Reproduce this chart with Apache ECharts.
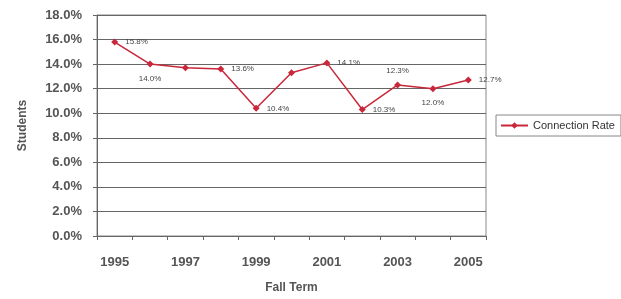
<!DOCTYPE html>
<html><head><meta charset="utf-8">
<script src="https://cdn.jsdelivr.net/npm/echarts@6/dist/echarts.min.js"></script>
<style>html,body{margin:0;padding:0;background:#fff}#c{width:621px;height:299px}</style>
</head><body><div id="c"></div>
<script>
const years = ['1995','1996','1997','1998','1999','2000','2001','2002','2003','2004','2005'];
const rates = [15.8, 14.0, 13.7, 13.6, 10.4, 13.3, 14.1, 10.3, 12.3, 12.0, 12.7];
const labelPos = ['right','bottom',null,'right','right',null,'right','right','top','bottom','right'];
const yTicks = [0,2,4,6,8,10,12,14,16,18];

const data = rates.map((v,i)=>({
  value: v,
  label: labelPos[i] ? {show:true, position:labelPos[i]} : {show:false}
}));

const chart = echarts.init(document.getElementById('c'));
chart.setOption({
  animation:false,
  textStyle:{fontFamily:'Liberation Sans, Arial, sans-serif'},
  grid:{left:97, right:135, top:15, bottom:63, show:true, borderColor:'#888', borderWidth:1, outerBoundsMode:'none', containLabel:false},
  legend:{
    data:['Connection Rate'], left:496, top:115,
    orient:'vertical', borderColor:'#888', borderWidth:1, padding:[5,6,5,4],
    itemWidth:27, itemHeight:8, itemGap:4,
    textStyle:{fontSize:11, color:'#333', letterSpacing:0.5}
  },
  xAxis:{
    type:'category', data:years, boundaryGap:true,
    name:'Fall Term', nameLocation:'middle', nameGap:46,
    nameTextStyle:{fontSize:12, fontWeight:'bold', color:'#555'},
    axisLine:{lineStyle:{color:'#666'}},
    axisTick:{show:true, alignWithLabel:false, interval:0, length:4, lineStyle:{color:'#666'}},
    axisLabel:{interval:1, fontSize:13, fontWeight:'bold', color:'#555', margin:20}
  },
  yAxis:{
    type:'value', min:0, max:18, interval:2,
    name:'Students', nameLocation:'middle', nameGap:68, nameRotate:90,
    nameTextStyle:{fontSize:12, fontWeight:'bold', color:'#555'},
    axisLine:{show:true, lineStyle:{color:'#666'}},
    axisTick:{show:true, length:4, lineStyle:{color:'#666'}},
    axisLabel:{fontSize:13, fontWeight:'bold', color:'#555', margin:15, formatter:v=>v.toFixed(1)+'%'},
    splitLine:{lineStyle:{color:'#666', width:1}}
  },
  series:[{
    name:'Connection Rate', type:'line', data:data,
    symbol:'diamond', symbolSize:7,
    lineStyle:{color:'#c8283a', width:1.5},
    itemStyle:{color:'#c8283a'},
    label:{fontSize:8, color:'#444', formatter:p=>p.value.toFixed(1)+'%', distance:7}
  }]
});
</script></body></html>
